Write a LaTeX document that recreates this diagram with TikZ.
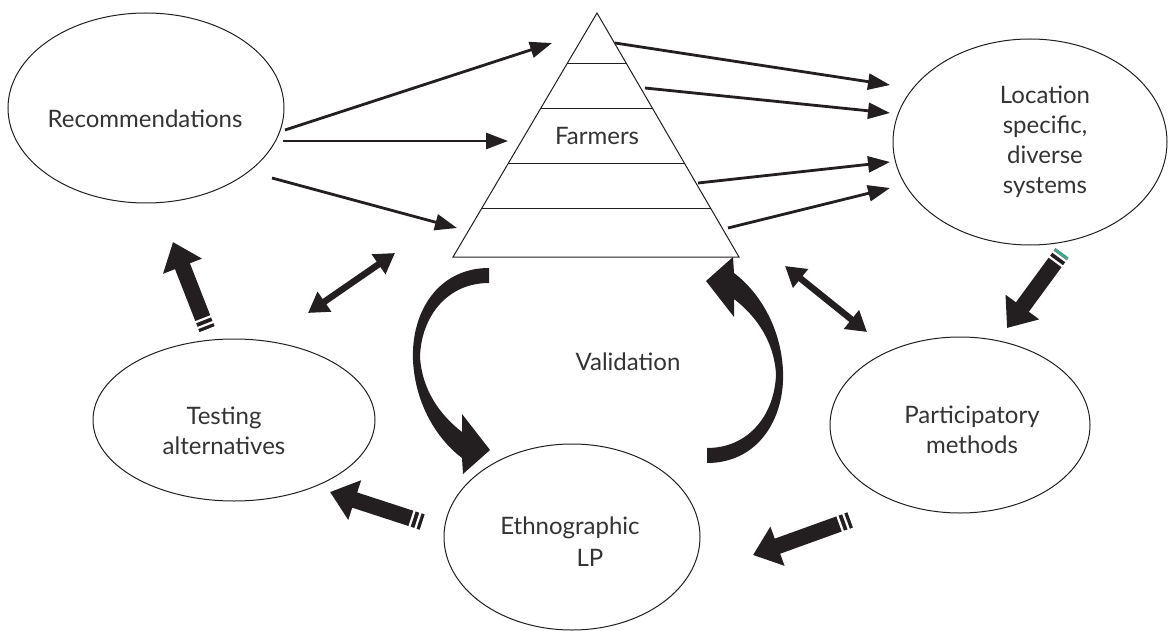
\documentclass[tikz,border=0pt]{standalone}
\usepackage{fontspec}
\setmainfont{Lato}
\usetikzlibrary{arrows.meta,shapes.geometric,calc}
\definecolor{ink}{HTML}{231F20}
\definecolor{txt}{HTML}{333333}
\definecolor{capteal}{HTML}{3FA88E}
\tikzset{
  blob/.style={ellipse, draw=ink, line width=1pt, inner sep=0pt},
  caption/.style={font=\fontsize{24}{30}\selectfont, text=txt, align=center},
  thin arrow/.style={draw=ink, line width=2.8pt, -{Triangle[length=22pt,width=16pt]}},
  twin arrow/.style={draw=ink, line width=6.5pt,
    {Triangle[length=20pt,width=23pt]}-{Triangle[length=20pt,width=23pt]}},
  fat arrow/.style={draw=ink, line width=16pt, -{Triangle[length=26pt,width=40pt]}},
  stripe/.style={draw=white, line width=2.2pt},
}
% thick arrow with a striped tail: #1 tail, #2 head, #3 colour of the end piece
\newcommand\stripedarrow[3]{%
  \draw[fat arrow] (#1) -- (#2);
  \draw[#3, line width=16pt] (#1) -- ($(#1)!3pt!(#2)$);
  \draw[stripe] ($(#1)!4.3pt!(#2)!9pt!90:(#2)$) -- ($(#1)!4.3pt!(#2)!9pt!-90:(#2)$);
  \draw[stripe] ($(#1)!10.5pt!(#2)!9pt!90:(#2)$) -- ($(#1)!10.5pt!(#2)!9pt!-90:(#2)$);
}
\begin{document}
\begin{tikzpicture}[x=1pt,y=-1pt]
\useasboundingbox (0,0) rectangle (1172,631);

% ellipses
\node[blob, minimum width=276pt, minimum height=190pt] (rec)   at (146,108) {};
\node[blob, minimum width=274pt, minimum height=206pt] (loc)   at (1030,142) {};
\node[blob, minimum width=282pt, minimum height=162pt] (test)  at (234,420) {};
\node[blob, minimum width=260pt, minimum height=176pt] (part)  at (960,425) {};
\node[blob, minimum width=256pt, minimum height=186pt] (ethno) at (572,537) {};

\node[caption] (recT)   at (145,119) {Recommendations};
\node[caption] (locT)   at (1045,142) {Location\\specific,\\diverse\\systems};
\node[caption] (testT)  at (224,431) {Testing\\alternatives};
\node[caption] (partT)  at (972,430) {Participatory\\methods};
\node[caption] (ethnoT) at (570,528) {Ethnographic};
\node[caption] (lpT)    at (590,558) {LP};
\node[caption] (valT)   at (628,362) {Validation};

% pyramid of farmers
\coordinate (apex) at (597,13);
\coordinate (bl) at (453,257);
\coordinate (br) at (739,257);
\draw[ink, line width=1pt, fill=white] (apex) -- (bl) -- (br) -- cycle;
\foreach \t in {0.205,0.393,0.615,0.803}
  \draw[ink, line width=1pt] ($(apex)!\t!(bl)$) -- ($(apex)!\t!(br)$);
\node[caption] (farm) at (597,136) {Farmers};

% recommendations reaching the farmers
\coordinate (r1) at (285,130); \coordinate (p1) at (552,43);
\coordinate (r2) at (283,141); \coordinate (p2) at (508,141);
\coordinate (r3) at (272,178); \coordinate (p3) at (457,228);
\draw[thin arrow] (r1) -- (p1);
\draw[thin arrow] (r2) -- (p2);
\draw[thin arrow] (r3) -- (p3);

% farmers leading to location specific systems
\coordinate (q1) at (615,43);  \coordinate (l1) at (890,85);
\coordinate (q2) at (645,88);  \coordinate (l2) at (890,113);
\coordinate (q3) at (698,183); \coordinate (l3) at (890,162);
\coordinate (q4) at (728,228); \coordinate (l4) at (890,188);
\draw[thin arrow] (q1) -- (l1);
\draw[thin arrow] (q2) -- (l2);
\draw[thin arrow] (q3) -- (l3);
\draw[thin arrow] (q4) -- (l4);

% two-way links
\coordinate (d1a) at (308,313); \coordinate (d1b) at (395,253);
\coordinate (d2a) at (785,266); \coordinate (d2b) at (867,332);
\draw[twin arrow] (d1a) -- (d1b);
\draw[twin arrow] (d2a) -- (d2b);

% striped cycle arrows
\coordinate (s1) at (207,329);  \coordinate (h1) at (173,242);
\coordinate (s2) at (1062,253); \coordinate (h2) at (1007,328);
\coordinate (s3) at (850,520);  \coordinate (h3) at (753,555);
\coordinate (s4) at (422,522);  \coordinate (h4) at (330,492);
\stripedarrow{s1}{h1}{ink}
\stripedarrow{s2}{h2}{capteal}
\stripedarrow{s3}{h3}{ink}
\stripedarrow{s4}{h4}{ink}

% validation loop: two crescent arrows
\def\crescent{(489,268) .. controls (438,268) and (411,312) .. (413,360)
  .. controls (415,405) and (438,440) .. (462,458)
  -- (463,474) -- (490,450) -- (462,414) -- (462,432)
  .. controls (440,415) and (422,390) .. (420,357)
  .. controls (421,318) and (446,283) .. (489,283) -- cycle}
\fill[ink] \crescent;
\fill[ink, rotate around={180:(598,365.5)}] \crescent;
\end{tikzpicture}
\end{document}
